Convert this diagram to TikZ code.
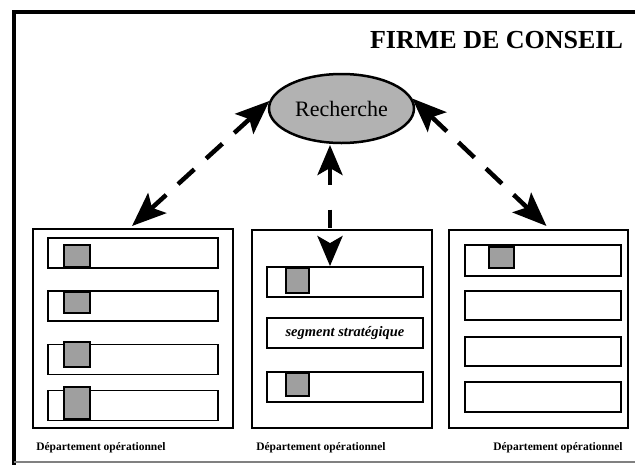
\documentclass[tikz,border=0pt]{standalone}
\usepackage{fontspec}
\setmainfont{Liberation Serif}
\usetikzlibrary{arrows.meta,shapes.geometric,calc}
\begin{document}
\begin{tikzpicture}[x=1pt,y=-1pt,
  outerbox/.style={draw, line width=2pt, inner sep=0pt},
  bar/.style={draw, line width=1.8pt, inner sep=0pt, fill=white},
  sq/.style={draw, line width=1.2pt, inner sep=0pt, fill=gray!75},
  lab/.style={font=\fontsize{11.5}{12}\selectfont\bfseries, anchor=base, inner sep=0pt},
  conn/.style={line width=4.5pt, dash pattern=on 22pt off 16pt, {Stealth[length=34pt,width=27pt,inset=7pt]}-{Stealth[length=34pt,width=27pt,inset=7pt]}},
  mconn/.style={line width=4.5pt, dash pattern=on 18pt off 25pt, {Stealth[length=30pt,width=25pt,inset=7pt]}-{Stealth[length=30pt,width=25pt,inset=7pt]}}
]
\useasboundingbox (0,0) rectangle (635,464);
% outer frame
\draw[line width=4pt] (13.5,472) -- (13.5,12) -- (645,12);
\draw[line width=1.5pt, gray] (13.5,462) -- (645,462);
% title
\node[anchor=base, inner sep=0pt, font=\fontsize{26}{26}\selectfont\bfseries] (title) at (496.5,48) {FIRME DE CONSEIL};
% ellipse
\node[ellipse, draw, line width=2.5pt, fill=gray!60, minimum width=145pt, minimum height=69pt, inner sep=0pt, font=\fontsize{22}{22}\selectfont] (rech) at (341.5,108.5) {Recherche};

% left box
\node[outerbox, minimum width=200pt, minimum height=199pt] (dl) at (133,328.5) {};
\node[bar, minimum width=170pt, minimum height=30pt] (dl1) at (133,253) {};
\node[bar, minimum width=170pt, minimum height=30pt] (dl2) at (133,306) {};
\node[bar, minimum width=170pt, minimum height=30pt] (dl3) at (133,359.5) {};
\node[bar, minimum width=170pt, minimum height=30pt] (dl4) at (133,405.5) {};
\node[sq, minimum width=26pt, minimum height=22pt] (sl1) at (77,256) {};
\node[sq, minimum width=26pt, minimum height=21pt] (sl2) at (77,302.5) {};
\node[sq, minimum width=26pt, minimum height=25pt] (sl3) at (77,354.5) {};
\node[sq, minimum width=26pt, minimum height=32pt] (sl4) at (77,403) {};

% middle box
\node[outerbox, minimum width=180pt, minimum height=198pt] (dm) at (342,329) {};
\node[bar, minimum width=156pt, minimum height=30pt] (dm1) at (345,282) {};
\node[bar, minimum width=156pt, minimum height=30pt, font=\fontsize{14.5}{15}\selectfont\bfseries\itshape] (dm2) at (345,333) {segment stratégique};
\node[bar, minimum width=156pt, minimum height=30pt] (dm3) at (345,387) {};
\node[sq, minimum width=23pt, minimum height=25pt] (sm1) at (297.5,280.5) {};
\node[sq, minimum width=23pt, minimum height=23pt] (sm3) at (297.5,384.5) {};

% right box
\node[outerbox, minimum width=179pt, minimum height=198pt] (dr) at (538.5,329) {};
\node[bar, minimum width=156pt, minimum height=31pt] (dr1) at (543,260.5) {};
\node[bar, minimum width=156pt, minimum height=29pt] (dr2) at (543,305.5) {};
\node[bar, minimum width=156pt, minimum height=29pt] (dr3) at (543,351.5) {};
\node[bar, minimum width=156pt, minimum height=30pt] (dr4) at (543,397) {};
\node[sq, minimum width=25pt, minimum height=21pt] (sr1) at (501.5,257.5) {};

% labels
\node[lab] (ll) at (101,450) {Département opérationnel};
\node[lab] (lm) at (321,450) {Département opérationnel};
\node[lab] (lr) at (558,450) {Département opérationnel};

% connectors
\coordinate (mtop) at (330,145);
\coordinate (mbot) at (dm1.north -| mtop);
\coordinate (rtip) at ($(dr.north)+(8,-3)$);
\coordinate (ltip) at ($(dl.north)+(-1,-2)$);
\draw[conn] (rech.174) -- (ltip);
\draw[conn] (rech.8) -- (rtip);
\draw[mconn] (mtop) -- (mbot);
\end{tikzpicture}
\end{document}
